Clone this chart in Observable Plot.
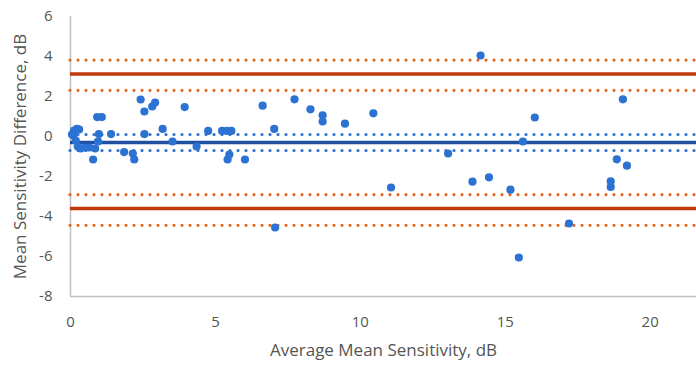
<!DOCTYPE html>
<html>
<head>
<meta charset="utf-8">
<script src="https://cdn.jsdelivr.net/npm/d3@7"></script>
<script src="https://cdn.jsdelivr.net/npm/@observablehq/plot@0.6"></script>
<style>
  html, body { margin: 0; padding: 0; background: #fff; }
  #chart svg { display: block; }
</style>
</head>
<body>
<div id="chart"></div>
<script>
// Average mean sensitivity (dB) for each eye
const avgSensitivity = [
  0.05, 0.12, 0.22, 0.30, 0.10, 0.18, 0.25, 0.35, 0.50, 0.65, 0.78, 0.85, 0.95, 0.98,
  0.92, 1.08, 1.40, 1.85, 2.15, 2.20, 2.42, 2.55, 2.82, 2.92, 2.55, 3.18, 3.52, 3.94,
  4.35, 4.75, 5.23, 5.40, 5.55, 5.48, 5.42, 6.02, 6.63, 7.03, 7.06, 7.73, 8.28, 8.70,
  8.70, 9.47, 10.45, 11.06, 13.03, 13.87, 14.15, 14.44, 15.18, 15.47, 15.61, 16.02,
  17.20, 18.64, 18.64, 18.85, 19.06, 19.20
];
// Mean sensitivity difference (dB)
const sensDifference = [
  0.10, 0.30, 0.38, 0.35, 0.05, -0.20, -0.50, -0.60, -0.55, -0.55, -1.15, -0.60, -0.25, 0.12,
  0.97, 0.97, 0.12, -0.78, -0.85, -1.15, 1.85, 1.25, 1.50, 1.70, 0.12, 0.38, -0.25, 1.47,
  -0.50, 0.28, 0.28, 0.28, 0.28, -0.90, -1.15, -1.15, 1.54, 0.38, -4.55, 1.86, 1.36, 1.06,
  0.75, 0.64, 1.16, -2.55, -0.85, -2.26, 4.05, -2.04, -2.66, -6.05, -0.25, 0.95,
  -4.35, -2.24, -2.52, -1.14, 1.86, -1.46
];
// Bias and its 95% CI
const meanBias = [-0.30];
const biasCI = [0.10, -0.70];
// Limits of agreement and their 95% CIs
const limitsOfAgreement = [3.12, -3.60];
const limitsCI = [3.82, 2.31, -2.91, -4.44];

const xTicks = [0, 5, 10, 15, 20];
const yTicks = [-8, -6, -4, -2, 0, 2, 4, 6];

const points = avgSensitivity.map((x, i) => ({x, y: sensDifference[i]}));

const font = "Open Sans, Liberation Sans, sans-serif";
const grey = "#555555";

const chart = Plot.plot({
  width: 696,
  height: 366,
  marginLeft: 70,
  marginRight: 0,
  marginTop: 16,
  marginBottom: 70,
  style: {fontFamily: font, fontSize: "15px", color: grey, background: "#fff"},
  x: {domain: [0, 21.6]},
  y: {domain: [-8, 6]},
  marks: [
    Plot.axisX({ticks: xTicks, tickSize: 0, tickPadding: 20, label: null, fontSize: 15, fill: grey, tickFormat: d => String(d)}),
    Plot.axisY({ticks: yTicks, tickSize: 0, tickPadding: 18, label: null, fontSize: 15, fill: grey, tickFormat: d => String(d)}),
    Plot.ruleX([0], {stroke: "#bfbfbf", strokeWidth: 1.5}),
    Plot.ruleY([-8], {stroke: "#bfbfbf", strokeWidth: 1.5}),
    Plot.ruleY(limitsCI, {stroke: "#e8651e", strokeWidth: 3.2, strokeDasharray: "0 8", strokeLinecap: "round"}),
    Plot.ruleY(limitsOfAgreement, {stroke: "#c0390a", strokeWidth: 3.5}),
    Plot.ruleY(biasCI, {stroke: "#2a70d0", strokeWidth: 3.2, strokeDasharray: "0 8", strokeLinecap: "round"}),
    Plot.ruleY(meanBias, {stroke: "#1f4f9e", strokeWidth: 3.5}),
    Plot.dot(points, {x: "x", y: "y", r: 4.1, fill: "#2c72d2", stroke: "none"}),
    Plot.text(["Average Mean Sensitivity, dB"], {frameAnchor: "bottom", dy: 59, fontSize: 17, fill: grey}),
    Plot.text(["Mean Sensitivity Difference, dB"], {frameAnchor: "left", textAnchor: "middle", dx: -50, rotate: -90, fontSize: 17, fill: grey})
  ]
});
document.getElementById("chart").appendChild(chart);
</script>
</body>
</html>
